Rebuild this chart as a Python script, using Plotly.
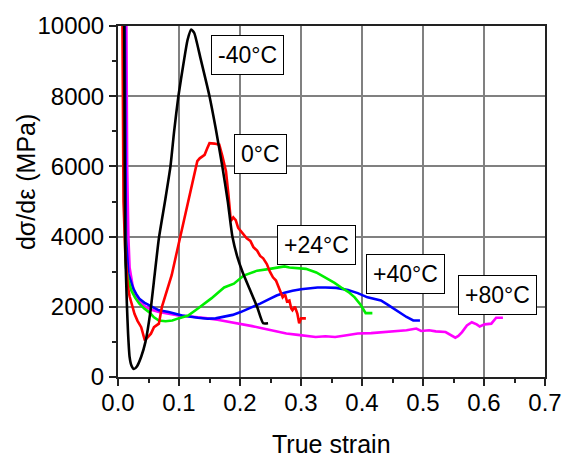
import plotly.graph_objects as go

# -40°C
x_m40 = [0.010, 0.011, 0.012, 0.0145, 0.0165, 0.019, 0.022, 0.026, 0.031, 0.038, 0.045, 0.053, 0.060, 0.067,
         0.077, 0.086, 0.092, 0.099, 0.108, 0.114, 0.120, 0.125, 0.135, 0.150, 0.160, 0.171, 0.180, 0.1875,
         0.196, 0.204, 0.216, 0.228, 0.238, 0.246]
y_m40 = [11000, 6000, 3600, 2100, 1240, 575, 330, 230, 300, 575, 1000, 1850, 2900, 3950,
         5000, 6000, 7000, 8000, 9000, 9600, 9900, 9800, 9100, 8000, 7100, 6000, 5000, 4000,
         3400, 3000, 2500, 2000, 1530, 1530]

# 0°C
x_0 = [0.007, 0.009, 0.012, 0.016, 0.019, 0.023, 0.027, 0.032, 0.038, 0.044, 0.050, 0.054, 0.059, 0.067,
       0.072, 0.081, 0.088, 0.095, 0.102, 0.110, 0.118, 0.128, 0.130, 0.134, 0.142, 0.146, 0.150, 0.158,
       0.166, 0.171, 0.177, 0.181, 0.185, 0.189, 0.193, 0.197, 0.201, 0.206, 0.211, 0.217, 0.222, 0.228,
       0.233, 0.238, 0.244, 0.249, 0.254, 0.259, 0.264, 0.270, 0.274, 0.277, 0.281, 0.284, 0.286, 0.290,
       0.294, 0.297, 0.300, 0.308]
y_0 = [11000, 5000, 3500, 2600, 2300, 2050, 1800, 1600, 1420, 1045, 1150, 1235, 1420, 1520,
       2000, 2500, 2900, 3450, 4000, 4600, 5300, 6000, 6150, 6230, 6330, 6500, 6660, 6650,
       6620, 6300, 5860, 5200, 4440, 4550, 4470, 4250, 4160, 4050, 3950, 3880, 3700, 3600,
       3450, 3380, 3220, 3000, 2840, 2750, 2550, 2270, 2350, 2150, 2180, 1950, 1900, 2000,
       1810, 1530, 1670, 1670]

# +24°C
x_24 = [0.0085, 0.010, 0.012, 0.013, 0.017, 0.022, 0.028, 0.035, 0.043, 0.051, 0.059, 0.067, 0.078, 0.089,
        0.099, 0.115, 0.131, 0.153, 0.174, 0.190, 0.206, 0.228, 0.249, 0.273, 0.281, 0.295, 0.308, 0.325,
        0.340, 0.355, 0.366, 0.378, 0.388, 0.398, 0.406, 0.417]
y_24 = [11000, 6000, 3500, 3120, 2750, 2460, 2260, 2090, 1950, 1850, 1700, 1610, 1590, 1610,
        1670, 1750, 1950, 2240, 2550, 2660, 2890, 3030, 3080, 3150, 3120, 3110, 3080, 2980,
        2840, 2680, 2550, 2420, 2270, 2050, 1820, 1820]

# +40°C
x_40 = [0.011, 0.012, 0.013, 0.017, 0.021, 0.025, 0.030, 0.035, 0.043, 0.051, 0.059, 0.067, 0.083, 0.105,
        0.131, 0.147, 0.160, 0.174, 0.188, 0.201, 0.217, 0.233, 0.247, 0.260, 0.273, 0.286, 0.300, 0.313,
        0.327, 0.340, 0.358, 0.377, 0.393, 0.409, 0.420, 0.431, 0.442, 0.452, 0.462, 0.473, 0.484, 0.495]
y_40 = [11000, 6000, 4000, 2940, 2700, 2520, 2360, 2230, 2120, 2040, 1970, 1900, 1850, 1750,
        1690, 1660, 1670, 1710, 1770, 1850, 1960, 2090, 2210, 2320, 2400, 2460, 2500, 2530,
        2550, 2550, 2540, 2480, 2390, 2270, 2230, 2180, 2060, 1940, 1830, 1710, 1610, 1610]

# +80°C
x_80 = [0.0135, 0.015, 0.017, 0.019, 0.024, 0.030, 0.038, 0.046, 0.056, 0.067, 0.083, 0.099, 0.115, 0.131,
        0.147, 0.163, 0.180, 0.201, 0.220, 0.238, 0.257, 0.276, 0.295, 0.313, 0.324, 0.340, 0.356, 0.375,
        0.393, 0.415, 0.436, 0.455, 0.473, 0.489, 0.497, 0.510, 0.521, 0.537, 0.545, 0.553, 0.558, 0.564,
        0.572, 0.580, 0.588, 0.593, 0.601, 0.612, 0.620, 0.631]
y_80 = [11000, 6000, 4000, 3120, 2600, 2270, 2100, 1990, 1910, 1850, 1800, 1750, 1730, 1710,
        1670, 1630, 1580, 1520, 1450, 1380, 1310, 1240, 1200, 1160, 1140, 1160, 1140, 1190,
        1240, 1250, 1280, 1300, 1330, 1380, 1310, 1330, 1300, 1280, 1200, 1120, 1170, 1280,
        1470, 1560, 1500, 1440, 1500, 1520, 1690, 1690]

series_names = ["-40°C", "0°C", "+24°C", "+40°C", "+80°C"]
series_x = [x_m40, x_0, x_24, x_40, x_80]
series_y = [y_m40, y_0, y_24, y_40, y_80]
series_colors = ["#000000", "#ff0000", "#00ee00", "#0000ff", "#ff00ff"]

# label boxes: (text, x, y) in data coordinates
label_pos = [("-40°C", 0.2115, 9180), ("0°C", 0.234, 6340), ("+24°C", 0.326, 3757),
             ("+40°C", 0.471, 2938), ("+80°C", 0.622, 2331)]

fig = go.Figure()
order = [4, 3, 2, 1, 0]
for i in order:
    shape = "spline" if i == 0 else "linear"
    fig.add_trace(go.Scatter(x=series_x[i], y=series_y[i], mode="lines", name=series_names[i],
                             line=dict(color=series_colors[i], width=2.6, shape=shape, smoothing=0.5),
                             showlegend=False))

font = "Liberation Sans, Arial, sans-serif"
for text, lx, ly in label_pos:
    fig.add_annotation(x=lx, y=ly, xref="x", yref="y", text=text, showarrow=False,
                       font=dict(family=font, size=23, color="black"),
                       bgcolor="white", bordercolor="black", borderwidth=1, borderpad=6)

fig.add_annotation(x=0.5, y=-0.19, xref="paper", yref="paper", text="True strain", showarrow=False,
                   font=dict(family=font, size=25, color="black"), xanchor="center", yanchor="middle")
fig.add_annotation(x=-0.215, y=0.556, xref="paper", yref="paper", text="dσ/dε (MPa)", showarrow=False,
                   textangle=-90, font=dict(family=font, size=25, color="black"),
                   xanchor="center", yanchor="middle")

fig.update_xaxes(range=[0, 0.7], dtick=0.1, tickformat=".1f", showgrid=True, gridcolor="#808080",
                 gridwidth=1.5, showline=True, linecolor="#222", linewidth=2, mirror=True,
                 ticks="outside", ticklen=7, tickwidth=1.5, tickcolor="#222", ticklabelstandoff=-4,
                 minor=dict(ticks="outside", ticklen=4, dtick=0.05, tickcolor="#222", showgrid=False),
                 tickfont=dict(family=font, size=24, color="black"), zeroline=False)
fig.update_yaxes(range=[0, 10000], dtick=2000, tickformat="d", showgrid=True, gridcolor="#808080",
                 gridwidth=1.5, showline=True, linecolor="#222", linewidth=2, mirror=True,
                 ticks="outside", ticklen=7, tickwidth=1.5, tickcolor="#222",
                 minor=dict(ticks="outside", ticklen=4, dtick=1000, tickcolor="#222", showgrid=False),
                 tickfont=dict(family=font, size=24, color="black"), zeroline=False)

fig.update_layout(width=574, height=459, margin=dict(l=118, r=20, t=23, b=82),
                  plot_bgcolor="white", paper_bgcolor="white")

fig.write_html("out.html")
